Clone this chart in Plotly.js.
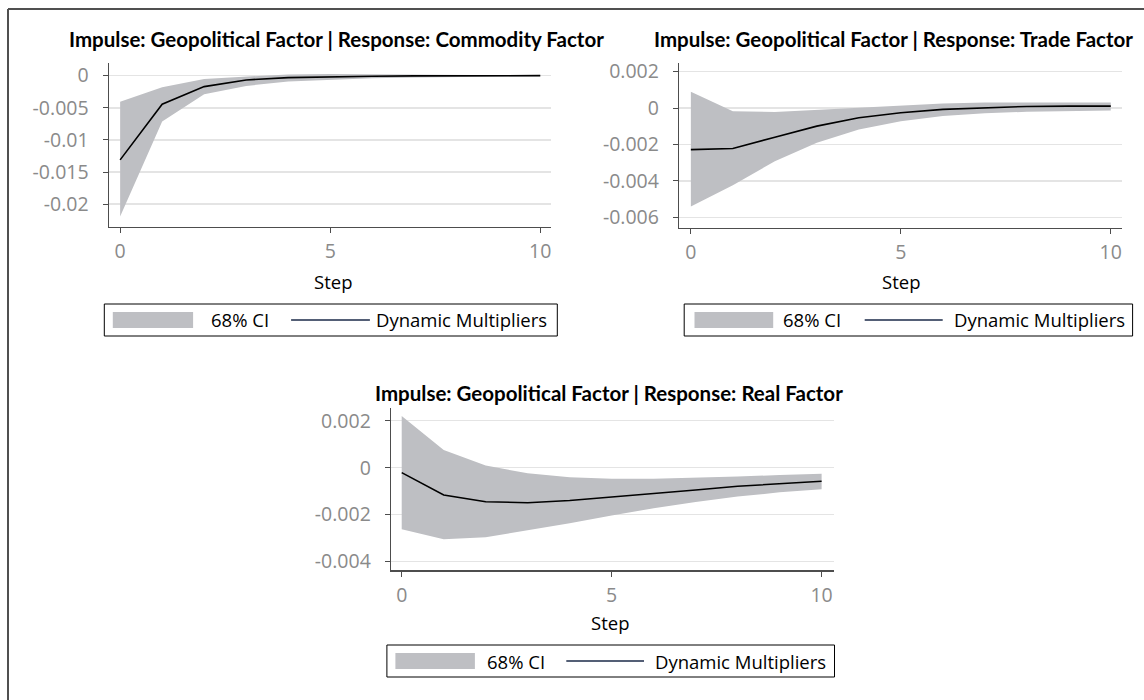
<!DOCTYPE html>
<html>
<head>
<meta charset="utf-8">
<script src="https://cdn.plot.ly/plotly-3.0.1.min.js"></script>
<style>html,body{margin:0;padding:0;background:#fff}#chart{width:1144px;height:700px}</style>
</head>
<body>
<div id="chart"></div>
<script>
// ---------- data ----------
const steps = [0, 1, 2, 3, 4, 5, 6, 7, 8, 9, 10];

const commodityIRF   = [-0.0131, -0.00444, -0.0017, -0.00067, -0.0003, -0.00015, -0.00008, -0.00004, -0.00002, -0.00001, 0];
const commodityUpper = [-0.00404, -0.0018, -0.0005, -0.0001, 0.0002, 0.00026, 0.00022, 0.00015, 0.0001, 0.00006, 0.00004];
const commodityLower = [-0.0219, -0.00714, -0.0029, -0.0016, -0.0009, -0.0006, -0.0004, -0.0003, -0.0002, -0.00012, -0.0001];

const tradeIRF   = [-0.00228, -0.00222, -0.0016, -0.00099, -0.00053, -0.00026, -0.00007, 0.00002, 0.00009, 0.00011, 0.00011];
const tradeUpper = [0.0009, -0.00017, -0.00022, -0.0001, 0.00005, 0.00015, 0.00025, 0.0003, 0.0003, 0.0003, 0.0003];
const tradeLower = [-0.0054, -0.00424, -0.00292, -0.0019, -0.00117, -0.00072, -0.00044, -0.00029, -0.0002, -0.00017, -0.00013];

const realIRF   = [-0.00021, -0.00116, -0.00145, -0.00149, -0.0014, -0.00126, -0.00109, -0.00095, -0.00079, -0.00068, -0.00058];
const realUpper = [0.0022, 0.00075, 0.00009, -0.00024, -0.00041, -0.00047, -0.00047, -0.00044, -0.00038, -0.00031, -0.00026];
const realLower = [-0.00262, -0.00305, -0.00296, -0.00268, -0.00237, -0.00204, -0.00173, -0.00146, -0.00123, -0.00105, -0.00092];

const titles = [
  "Impulse: Geopolitical Factor | Response: Commodity Factor",
  "Impulse: Geopolitical Factor | Response: Trade Factor",
  "Impulse: Geopolitical Factor | Response: Real Factor"
];
const xTickVals = [0, 5, 10];
const xTickText = ["0", "5", "10"];
const commodityTickVals = [0, -0.005, -0.01, -0.015, -0.02];
const commodityTickText = ["0", "-0.005", "-0.01", "-0.015", "-0.02"];
const tradeTickVals = [0.002, 0, -0.002, -0.004, -0.006];
const tradeTickText = ["0.002", "0", "-0.002", "-0.004", "-0.006"];
const realTickVals = [0.002, 0, -0.002, -0.004];
const realTickText = ["0.002", "0", "-0.002", "-0.004"];
const xTitle = "Step";
const legendCI = "68% CI";
const legendLine = "Dynamic Multipliers";

// ---------- helpers ----------
const W = 1144, H = 700;
const px = x => x / W;
const py = y => 1 - y / H;
const FONT = "'Open Sans', Lato, sans-serif";
const TFONT = "Lato, 'Open Sans', sans-serif";
const BAND = "#bebfc3";
const GRID = "#e4e4e4";
const AXIS = "#4d4d4d";
const TICKF = "#8a8a8a";

const panels = [
  {irf: commodityIRF, up: commodityUpper, lo: commodityLower, tv: commodityTickVals, tt: commodityTickText,
   xd: [108.8, 551.2], yd: [63, 226.7], xr: [-0.27, 10.26], yr: [-0.0235, 0.00197],
   title: [336, 39], step: [333, 281], leg: {L: 104.3, T: 304, W: 453, s1: 8.5, s2: 88.8, ci: 104.7, l1: 186.8, l2: 265.6, tx: 269.3}},
  {irf: tradeIRF, up: tradeUpper, lo: tradeLower, tv: tradeTickVals, tt: tradeTickText,
   xd: [679.1, 1121.7], yd: [63.3, 227.7], xr: [-0.28, 10.26], yr: [-0.00657, 0.00246],
   title: [893, 39], step: [901, 281], leg: {L: 684.2, T: 304, W: 448.4, s1: 10.3, s2: 89, ci: 96.3, l1: 180.5, l2: 258.5, tx: 267.6}},
  {irf: realIRF, up: realUpper, lo: realLower, tv: realTickVals, tt: realTickText,
   xd: [391, 833.8], yd: [408.3, 570.3], xr: [-0.255, 10.29], yr: [-0.00437, 0.00253],
   title: [609.4, 393], step: [610.3, 622], leg: {L: 386.9, T: 645, W: 447.6, s1: 8.5, s2: 88, ci: 98, l1: 179.4, l2: 257.1, tx: 265.6}}
];

const data = [];
const layout = {
  width: W, height: H,
  margin: {l: 0, r: 0, t: 0, b: 0},
  paper_bgcolor: "#fff", plot_bgcolor: "#fff",
  showlegend: false,
  font: {family: FONT, color: "#000"},
  shapes: [], annotations: []
};

// outer frame (top and left edges)
layout.shapes.push({type: "line", xref: "paper", yref: "paper", x0: px(8), x1: px(1144), y0: py(9), y1: py(9), line: {color: "#505050", width: 2}});
layout.shapes.push({type: "line", xref: "paper", yref: "paper", x0: px(8), x1: px(8), y0: py(9), y1: py(700), line: {color: "#505050", width: 2}});

panels.forEach((p, i) => {
  const n = i === 0 ? "" : String(i + 1);
  const xa = "x" + n, ya = "y" + n;
  data.push({x: steps, y: p.lo, xaxis: xa, yaxis: ya, type: "scatter", mode: "lines", line: {width: 0, color: BAND}, hoverinfo: "skip"});
  data.push({x: steps, y: p.up, xaxis: xa, yaxis: ya, type: "scatter", mode: "lines", line: {width: 0, color: BAND}, fill: "tonexty", fillcolor: BAND, name: legendCI});
  data.push({x: steps, y: p.irf, xaxis: xa, yaxis: ya, type: "scatter", mode: "lines", line: {width: 1.6, color: "#000"}, name: legendLine});

  layout["xaxis" + n] = {
    domain: [px(p.xd[0]), px(p.xd[1])], anchor: ya, range: p.xr,
    tickvals: xTickVals, ticktext: xTickText,
    ticks: "outside", ticklen: 5, tickcolor: AXIS, tickwidth: 1,
    showline: true, linecolor: AXIS, linewidth: 1.3,
    showgrid: false, zeroline: false,
    tickfont: {family: FONT, size: 19.5, color: TICKF}, ticklabelstandoff: 2
  };
  layout["yaxis" + n] = {
    domain: [py(p.yd[1]), py(p.yd[0])], anchor: xa, range: p.yr,
    tickvals: p.tv, ticktext: p.tt,
    ticks: "outside", ticklen: 5, tickcolor: AXIS, tickwidth: 1,
    showline: true, linecolor: AXIS, linewidth: 1.3,
    showgrid: true, gridcolor: GRID, gridwidth: 1.5, zeroline: false,
    tickfont: {family: FONT, size: 19.5, color: TICKF}, ticklabelstandoff: 10
  };

  layout.annotations.push({xref: "paper", yref: "paper", x: px(p.title[0]), y: py(p.title[1]), xanchor: "center", yanchor: "middle",
    text: "<b>" + titles[i] + "</b>", showarrow: false, font: {family: TFONT, size: 20.5, color: "#000"}});
  layout.annotations.push({xref: "paper", yref: "paper", x: px(p.step[0]), y: py(p.step[1]), xanchor: "center", yanchor: "middle",
    text: xTitle, showarrow: false, font: {family: FONT, size: 18.5, color: "#000"}});

  // legend box
  const g = p.leg, cy = g.T + 16;
  layout.shapes.push({type: "rect", xref: "paper", yref: "paper", x0: px(g.L), x1: px(g.L + g.W), y0: py(g.T), y1: py(g.T + 32), line: {color: "#000", width: 1}, fillcolor: "#fff"});
  layout.shapes.push({type: "rect", xref: "paper", yref: "paper", x0: px(g.L + g.s1), x1: px(g.L + g.s2), y0: py(g.T + 8), y1: py(g.T + 24), line: {width: 0}, fillcolor: BAND});
  layout.shapes.push({type: "line", xref: "paper", yref: "paper", x0: px(g.L + g.l1), x1: px(g.L + g.l2), y0: py(cy), y1: py(cy), line: {color: "#1b2a48", width: 1.5}});
  layout.annotations.push({xref: "paper", yref: "paper", x: px(g.L + g.ci), y: py(cy), xanchor: "left", yanchor: "middle",
    text: legendCI, showarrow: false, font: {family: FONT, size: 18.5, color: "#000"}});
  layout.annotations.push({xref: "paper", yref: "paper", x: px(g.L + g.tx), y: py(cy), xanchor: "left", yanchor: "middle",
    text: legendLine, showarrow: false, font: {family: FONT, size: 18.5, color: "#000"}});
});

Plotly.newPlot("chart", data, layout, {displayModeBar: false, staticPlot: true});
</script>
</body>
</html>
